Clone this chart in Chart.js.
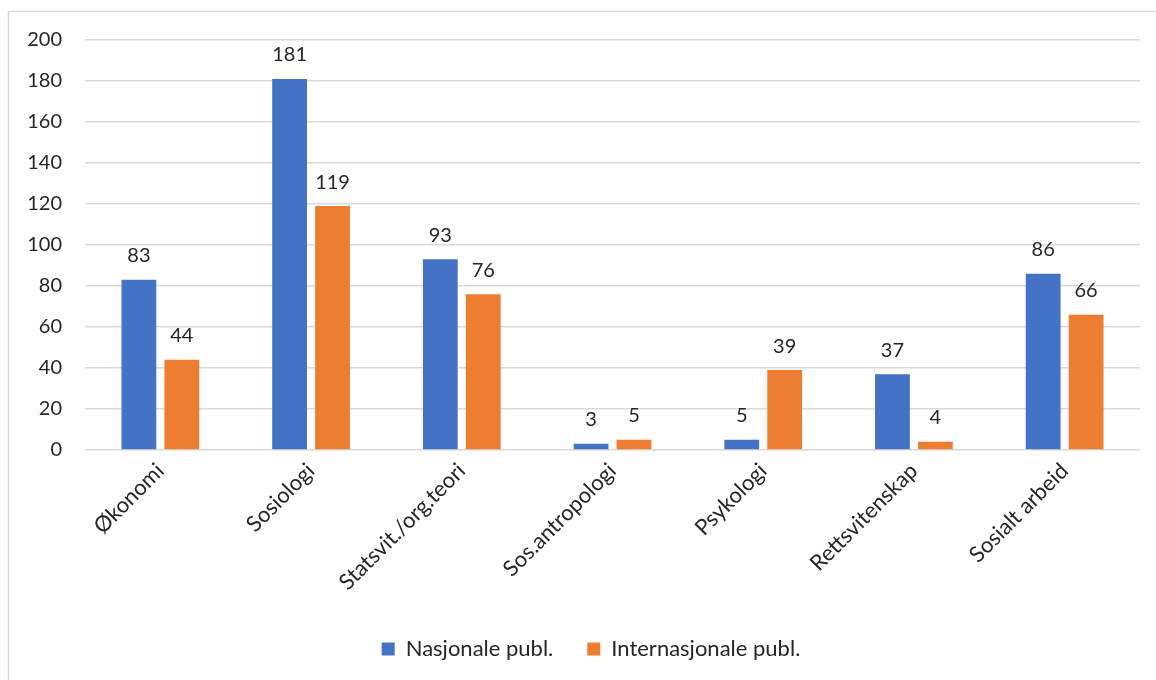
<!DOCTYPE html>
<html>
<head>
<meta charset="utf-8">
<script src="https://cdn.jsdelivr.net/npm/chart.js@4/dist/chart.umd.min.js"></script>
<style>
html,body{margin:0;padding:0;background:#fff;}
#wrap{width:1156px;height:680px;position:relative;}
</style>
</head>
<body>
<div id="wrap"><canvas id="c" width="1156" height="680"></canvas></div>
<script>
const categories = ["Økonomi", "Sosiologi", "Statsvit./org.teori", "Sos.antropologi", "Psykologi", "Rettsvitenskap", "Sosialt arbeid"];
const nasjonale = [83, 181, 93, 3, 5, 37, 86];
const internasjonale = [44, 119, 76, 5, 39, 4, 66];
const seriesNames = ["Nasjonale publ.", "Internasjonale publ."];
const yTicks = [0, 20, 40, 60, 80, 100, 120, 140, 160, 180, 200];

const FONT = "Lato";
const TXT = "#262626";

const borderPlugin = {
  id: 'frame',
  beforeDraw(chart) {
    const ctx = chart.ctx;
    ctx.save();
    ctx.fillStyle = '#fff';
    ctx.fillRect(0, 0, chart.width, chart.height);
    ctx.strokeStyle = '#d9d9d9';
    ctx.lineWidth = 1.5;
    ctx.strokeRect(8.5, 11.5, 1300, 800);
    ctx.restore();
  }
};

const legendShift = {
  id: 'legendShift',
  afterLayout(chart) {
    if (chart.legend) {
      chart.legend.left += 21;
      chart.legend.right += 21;
    }
  }
};

const valueLabels = {
  id: 'valueLabels',
  afterDatasetsDraw(chart) {
    const ctx = chart.ctx;
    ctx.save();
    ctx.font = "20px " + FONT;
    ctx.fillStyle = TXT;
    ctx.textAlign = 'center';
    ctx.textBaseline = 'middle';
    chart.data.datasets.forEach((ds, di) => {
      const meta = chart.getDatasetMeta(di);
      meta.data.forEach((bar, i) => {
        ctx.fillText(String(ds.data[i]), bar.x, bar.y - 24);
      });
    });
    ctx.restore();
  }
};

new Chart(document.getElementById('c'), {
  type: 'bar',
  data: {
    labels: categories,
    datasets: [
      { label: seriesNames[0], data: nasjonale, backgroundColor: '#4472C4', categoryPercentage: 0.57, barPercentage: 0.81 },
      { label: seriesNames[1], data: internasjonale, backgroundColor: '#ED7D31', categoryPercentage: 0.57, barPercentage: 0.81 }
    ]
  },
  options: {
    responsive: false,
    animation: false,
    devicePixelRatio: 1,
    layout: { padding: { top: 40, right: 16, bottom: 10, left: 0 } },
    plugins: {
      legend: {
        position: 'bottom',
        labels: {
          boxWidth: 13, boxHeight: 13, padding: 34,
          color: TXT,
          font: { family: FONT, size: 22 }
        }
      },
      tooltip: { enabled: false }
    },
    scales: {
      x: {
        grid: { display: false, drawTicks: false },
        border: { display: false },
        ticks: {
          color: TXT, font: { family: FONT, size: 22 },
          maxRotation: 45, minRotation: 45, padding: 8
        },
        afterFit(s) { s.height = 154; }
      },
      y: {
        min: 0, max: 200,
        afterBuildTicks(s) { s.ticks = yTicks.map(v => ({ value: v })); },
        grid: { color: '#d9d9d9', lineWidth: 1.5, drawTicks: false },
        border: { display: false },
        ticks: { color: TXT, font: { family: FONT, size: 20 }, padding: 23 },
        afterFit(s) { s.width = 85; }
      }
    }
  },
  plugins: [borderPlugin, legendShift, valueLabels]
});
</script>
</body>
</html>
